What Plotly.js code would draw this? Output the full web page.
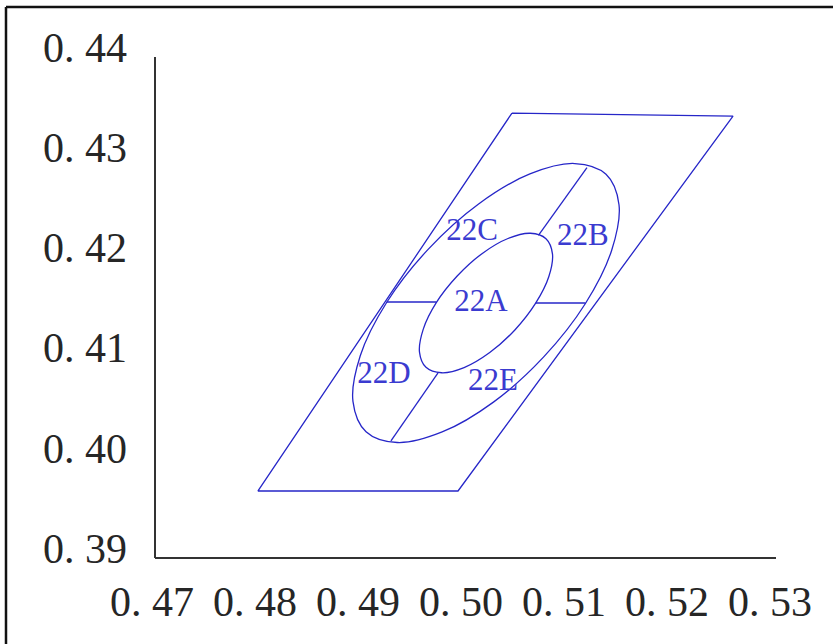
<!DOCTYPE html>
<html>
<head>
<meta charset="utf-8">
<script src="https://cdn.plot.ly/plotly-3.0.1.min.js"></script>
<style>html,body{margin:0;padding:0;background:#fff;}#chart{width:833px;height:644px;}</style>
</head>
<body>
<div id="chart"></div>
<script>
// Tick values and labels
const xTickVals = [0.47, 0.48, 0.49, 0.50, 0.51, 0.52, 0.53];
const xTickText = ["0. 47", "0. 48", "0. 49", "0. 50", "0. 51", "0. 52", "0. 53"];
const yTickVals = [0.39, 0.40, 0.41, 0.42, 0.43, 0.44];
const yTickText = ["0. 39", "0. 40", "0. 41", "0. 42", "0. 43", "0. 44"];

// Parallelogram outline (closed)
const paraX = [0.50495, 0.52641, 0.49971, 0.48029, 0.50495];
const paraY = [0.43341, 0.43311, 0.39569, 0.39569, 0.43341];

// Outer ellipse outline (read points)
const outerX = [0.50803, 0.50315, 0.49817, 0.49381, 0.49078, 0.48951, 0.49022, 0.49278,
                0.49683, 0.50171, 0.50669, 0.51105, 0.51408, 0.51534, 0.51463, 0.51208, 0.50803];
const outerY = [0.40907, 0.40456, 0.40158, 0.40053, 0.40161, 0.40464, 0.40918, 0.41450,
                0.41983, 0.42434, 0.42733, 0.42837, 0.42730, 0.42426, 0.41972, 0.41440, 0.40907];

// Inner ellipse outline (read points)
const innerX = [0.50523, 0.50279, 0.50030, 0.49812, 0.49660, 0.49597, 0.49633, 0.49760,
                0.49963, 0.50207, 0.50456, 0.50674, 0.50825, 0.50888, 0.50853, 0.50725, 0.50523];
const innerY = [0.41176, 0.40951, 0.40801, 0.40749, 0.40803, 0.40955, 0.41182, 0.41448,
                0.41714, 0.41940, 0.42089, 0.42141, 0.42087, 0.41936, 0.41709, 0.41443, 0.41176];

// Divider segments between the ellipses
const divX = [0.49278, 0.49760, null, 0.50725, 0.51208, null, 0.50752, 0.51223, null, 0.49777, 0.49320];
const divY = [0.41455, 0.41455, null, 0.41445, 0.41445, null, 0.42119, 0.42797, null, 0.40747, 0.40068];

// Region labels
const labelText = ["22A", "22B", "22C", "22D", "22E"];
const labelX = [0.50194, 0.51184, 0.50107, 0.49252, 0.50311];
const labelY = [0.41445, 0.42104, 0.42154, 0.40727, 0.40657];

// Axis line extents
const axisXStart = 0.470291, axisXEnd = 0.530583;
const axisYStart = 0.389002, axisYEnd = 0.439002;

const lineColor = "#2626c8";
const lineStyle = {color: lineColor, width: 1.3};

const traces = [
  {x: paraX, y: paraY, mode: "lines", line: lineStyle, hoverinfo: "skip"},
  {x: outerX, y: outerY, mode: "lines", line: Object.assign({shape: "spline", smoothing: 1}, lineStyle), hoverinfo: "skip"},
  {x: innerX, y: innerY, mode: "lines", line: Object.assign({shape: "spline", smoothing: 1}, lineStyle), hoverinfo: "skip"},
  {x: divX, y: divY, mode: "lines", line: lineStyle, connectgaps: false, hoverinfo: "skip"},
  {x: labelX, y: labelY, mode: "text", text: labelText, textposition: "middle center",
   textfont: {family: "Liberation Serif, DejaVu Serif, serif", size: 31, color: "#3b3bd0"}, hoverinfo: "skip"}
];

const tickFont = {family: "Liberation Serif, DejaVu Serif, serif", size: 42, color: "#262626"};

const layout = {
  width: 833, height: 644,
  margin: {l: 140, r: 43, t: 40, b: 74, pad: 0},
  paper_bgcolor: "#ffffff", plot_bgcolor: "#ffffff",
  showlegend: false,
  xaxis: {range: [0.468835, 0.531942], tickvals: xTickVals, ticktext: xTickText,
          showgrid: false, zeroline: false, showline: false, ticks: "",
          tickfont: tickFont, ticklabelstandoff: 3, fixedrange: true},
  yaxis: {range: [0.387804, 0.440699], tickvals: yTickVals, ticktext: yTickText,
          showgrid: false, zeroline: false, showline: false, ticks: "",
          tickfont: tickFont, ticklabelstandoff: 12, fixedrange: true},
  shapes: [
    {type: "line", xref: "x", yref: "y", x0: axisXStart, x1: axisXStart, y0: axisYStart, y1: axisYEnd,
     line: {color: "#333333", width: 2}},
    {type: "line", xref: "x", yref: "y", x0: axisXStart, x1: axisXEnd, y0: axisYStart, y1: axisYStart,
     line: {color: "#333333", width: 2}},
    {type: "line", xref: "paper", yref: "paper", x0: -0.206154, x1: 1.07, y0: 1.062264, y1: 1.062264,
     line: {color: "#111111", width: 2.5}},
    {type: "line", xref: "paper", yref: "paper", x0: -0.206154, x1: -0.206154, y0: 1.062264, y1: -0.15,
     line: {color: "#111111", width: 2.5}}
  ]
};

Plotly.newPlot("chart", traces, layout, {staticPlot: true, displayModeBar: false});
</script>
</body>
</html>
